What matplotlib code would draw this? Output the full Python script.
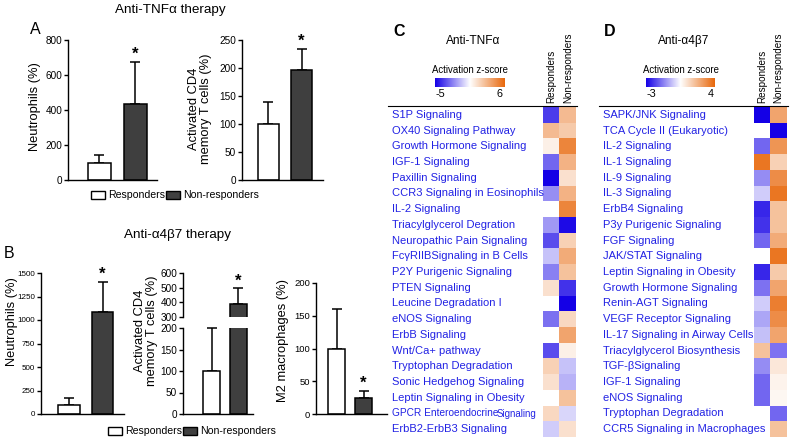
import numpy as np
import matplotlib
matplotlib.use("Agg")
import matplotlib.pyplot as plt
import matplotlib.transforms as mtransforms
from matplotlib.colors import LinearSegmentedColormap, TwoSlopeNorm
from matplotlib.patches import Rectangle
from matplotlib.lines import Line2D

plt.rcParams["font.family"] = ["Liberation Sans", "DejaVu Sans"]

W, H = 792, 441

# ---- bar data (responders, non-responders), mean and upper error ----
GROUPS = ["Responders", "Non-responders"]
A_NEUT, A_NEUT_ERR = [100, 435], [45, 240]
A_CD4, A_CD4_ERR = [100, 197], [40, 37]
B_NEUT, B_NEUT_ERR = [100, 1085], [65, 320]
B_CD4, B_CD4_ERR = [100, 390], [100, 105]
B_M2, B_M2_ERR = [100, 25], [60, 10]

# ---- heatmap data (activation z-score, nan = not significant) ----
C_LABELS = ["S1P Signaling", "OX40 Signaling Pathway", "Growth Hormone Signaling",
            "IGF-1 Signaling", "Paxillin Signaling", "CCR3 Signaling in Eosinophils",
            "IL-2 Signaling", "Triacylglycerol Degration", "Neuropathic Pain Signaling",
            "FcγRIIBSignaling in B Cells", "P2Y Purigenic Signaling", "PTEN Signaling",
            "Leucine Degradation I", "eNOS Signaling", "ErbB Signaling", "Wnt/Ca+ pathway",
            "Tryptophan Degradation", "Sonic Hedgehog Signaling",
            "Leptin Signaling in Obesity", "GPCR Enteroendocrine Signaling",
            "ErbB2-ErbB3 Signaling"]
C_RESP = [-3.8, 2.7, 0.6, -3.0, -5.0, -2.2, np.nan, -2.0, -3.5, -1.2, -2.5, 1.2,
          np.nan, -2.8, np.nan, -3.5, 1.8, 1.2, np.nan, 1.5, -1.0]
C_NONRESP = [2.7, 2.1, 4.8, 3.0, 1.2, 3.0, 4.8, -4.8, 1.8, 3.3, 2.4, -4.0,
             -5.0, 1.5, 3.6, 0.6, -1.2, -1.5, 2.4, -0.8, 1.2]

D_LABELS = ["SAPK/JNK Signaling", "TCA Cycle II (Eukaryotic)", "IL-2 Signaling",
            "IL-1 Signaling", "IL-9 Signaling", "IL-3 Signaling", "ErbB4 Signaling",
            "P3y Purigenic Signaling", "FGF Signaling", "JAK/STAT Signaling",
            "Leptin Signaling in Obesity", "Growth Hormone Signaling",
            "Renin-AGT Signaling", "VEGF Receptor Signaling",
            "IL-17 Signaling in Airway Cells", "Triacylglycerol Biosynthesis",
            "TGF-βSignaling", "IGF-1 Signaling", "eNOS Signaling",
            "Tryptophan Degradation", "CCR5 Signaling in Macrophages"]
D_RESP = [-3.0, np.nan, -1.8, 3.6, -1.35, -0.6, -2.55, -2.4, -1.8, np.nan, -2.55,
          -1.65, -0.6, -1.05, -0.75, 1.6, -1.35, -1.8, -1.8, np.nan, np.nan]
D_NONRESP = [2.4, -3.0, 2.8, 1.2, 3.0, 3.6, 1.6, 1.6, 2.2, 3.6, 1.4, 2.4, 3.4,
             3.0, 2.4, -1.65, 0.6, 0.3, 0.2, -1.8, 1.6]

BAR_COLORS = ["white", "#3f3f3f"]
BAR_W = 0.64
LABEL_BLUE = "#2222e4"
CMAP = LinearSegmentedColormap.from_list("bwo", ["#1400e6", "#ffffff", "#e8680c"])
CMAP.set_bad("white")

fig = plt.figure(figsize=(W / 100, H / 100), dpi=100)


def px_box(x0, y0, x1, y1):
    return [x0 / W, 1 - y1 / H, (x1 - x0) / W, (y1 - y0) / H]


def ftext(x, y, s, **kw):
    return fig.text(x / W, 1 - y / H, s, **kw)


def style_axis(ax, ticks, labelsize, bottom=True):
    ax.spines["top"].set_visible(False)
    ax.spines["right"].set_visible(False)
    ax.spines["bottom"].set_visible(bottom)
    for s in ("left", "bottom"):
        ax.spines[s].set_linewidth(1.0)
    ax.set_xticks([])
    ax.set_yticks(ticks)
    ax.tick_params(axis="y", length=3, width=1.0, labelsize=labelsize, pad=1.2)
    ax.patch.set_alpha(0)


def draw_bars(ax, vals, errs, err_on=(True, True), star=True):
    xs = np.arange(len(vals))
    ax.bar(xs, vals, BAR_W, color=BAR_COLORS, edgecolor="black", linewidth=1.1, zorder=2)
    for x, v, e, on in zip(xs, vals, errs, err_on):
        if not on:
            continue
        cont = ax.errorbar([x], [v], yerr=[[0], [e]], fmt="none", ecolor="black",
                           elinewidth=1.1, capsize=3.6, capthick=1.1, zorder=1)
        for art in list(cont.lines[1]) + list(cont.lines[2]):
            art.set_clip_on(False)
    if star:
        ax.annotate("*", (1, vals[1] + errs[1]), xytext=(0, 0), textcoords="offset points",
                    ha="center", va="bottom", fontsize=12, fontweight="bold")


# ================= Panel A =================
ftext(170, 10, "Anti-TNFα therapy", ha="center", va="center", fontsize=9.7)
ftext(35, 29, "A", ha="center", va="center", fontsize=11.5)

ax = fig.add_axes(px_box(68, 40, 157, 180))
draw_bars(ax, A_NEUT, A_NEUT_ERR)
ax.set_xlim(-0.875, 1.6)
ax.set_ylim(0, 800)
style_axis(ax, [0, 200, 400, 600, 800], 7.2)
ftext(35, 107, "Neutrophils (%)", rotation=90, ha="center", va="center", fontsize=9.3)

ax = fig.add_axes(px_box(242, 40, 323, 180))
draw_bars(ax, A_CD4, A_CD4_ERR)
ax.set_xlim(-0.8, 1.65)
ax.set_ylim(0, 250)
style_axis(ax, [0, 50, 100, 150, 200, 250], 7.2)
ftext(200, 109, "Activated CD4\nmemory T cells (%)", rotation=90, ha="center",
      va="center", fontsize=9.3, linespacing=1.0)


def legend(x, y, size):
    xs = [x, x + 75]
    for i, name in enumerate(GROUPS):
        fig.add_artist(Rectangle(((xs[i]) / W, 1 - (y + 4) / H), 14 / W, 8 / H,
                                 transform=fig.transFigure, facecolor=BAR_COLORS[i],
                                 edgecolor="black", linewidth=1.0))
        ftext(xs[i] + 17, y, name, ha="left", va="center", fontsize=size)


legend(91, 195, 7.6)

# ================= Panel B =================
ftext(177, 235, "Anti-α4β7 therapy", ha="center", va="center", fontsize=9.7)
ftext(9, 253, "B", ha="center", va="center", fontsize=11.5)

ax = fig.add_axes(px_box(41, 273, 124, 414))
draw_bars(ax, B_NEUT, B_NEUT_ERR)
ax.set_xlim(-0.84, 1.64)
ax.set_ylim(0, 1500)
style_axis(ax, [0, 250, 500, 750, 1000, 1250, 1500], 5.8)
ftext(12, 322, "Neutrophils (%)", rotation=90, ha="center", va="center", fontsize=9.3)

# broken axis: lower 0-200, upper 300-600
low = fig.add_axes(px_box(183, 328, 253, 414))
draw_bars(low, B_CD4, B_CD4_ERR, err_on=(True, False), star=False)
low.set_xlim(-1.06, 1.54)
low.set_ylim(0, 200)
style_axis(low, [0, 50, 100, 150, 200], 7.2)
up = fig.add_axes(px_box(183, 273, 253, 317))
draw_bars(up, B_CD4, B_CD4_ERR, err_on=(False, True))
up.set_xlim(-1.06, 1.54)
up.set_ylim(300, 600)
style_axis(up, [300, 400, 500, 600], 7.2, bottom=False)
ftext(146, 331, "Activated CD4\nmemory T cells (%)", rotation=90, ha="center",
      va="center", fontsize=9.3, linespacing=1.0)

ax = fig.add_axes(px_box(316, 283, 387, 414))
draw_bars(ax, B_M2, B_M2_ERR)
ax.set_xlim(-0.76, 1.87)
ax.set_ylim(0, 200)
style_axis(ax, [0, 50, 100, 150, 200], 6.8)
ftext(283, 340, "M2 macrophages (%)", rotation=90, ha="center", va="center", fontsize=9.3)

legend(108, 431, 7.6)


# ================= Panels C and D =================
def heatmap(dx, letter, title, labels, resp, nonresp, vmin, vmax):
    ftext(399 + dx, 32, letter, ha="center", va="center", fontsize=11.5, fontweight="bold")
    ftext(473 + dx, 41, title, ha="center", va="center", fontsize=8.6)
    ftext(470 + dx, 70, "Activation z-score", ha="center", va="center", fontsize=6.9)
    cax = fig.add_axes(px_box(435 + dx, 78, 504 + dx, 87))
    cax.imshow(np.linspace(0, 1, 256)[None, :], cmap=CMAP, aspect="auto")
    cax.axis("off")
    ftext(440 + dx, 94, f"{vmin:g}", ha="center", va="center", fontsize=7.8)
    ftext(500 + dx, 94, f"{vmax:g}", ha="center", va="center", fontsize=7.8)

    hx = fig.add_axes(px_box(543 + dx, 107, 576 + dx, 437))
    data = np.ma.masked_invalid(np.column_stack([resp, nonresp]))
    hx.imshow(data, cmap=CMAP, norm=TwoSlopeNorm(0, vmin, vmax), aspect="auto",
              interpolation="nearest")
    hx.axis("off")
    fig.add_artist(Line2D([388 / W + dx / W, 577 / W + dx / W], [1 - 106 / H] * 2,
                          color="black", lw=0.8))
    ctr = mtransforms.blended_transform_factory(hx.transData, fig.transFigure)
    for j, name in enumerate(GROUPS):
        hx.text(j, 1 - 103 / H, name, transform=ctr, rotation=90, ha="center",
                va="bottom", fontsize=7.1, clip_on=False)
    rtr = mtransforms.blended_transform_factory(fig.transFigure, hx.transData)
    for i, lab in enumerate(labels):
        if lab == "GPCR Enteroendocrine Signaling":
            hx.text((392 + dx) / W, i, "GPCR Enteroendocrine", transform=rtr, ha="left",
                    va="center", fontsize=7.3, color=LABEL_BLUE, clip_on=False)
            hx.text((497 + dx) / W, i + 0.05, "Signaling", transform=rtr, ha="left",
                    va="center", fontsize=6.9, color=LABEL_BLUE, clip_on=False)
        else:
            hx.text((392 + dx) / W, i, lab, transform=rtr, ha="left", va="center",
                    fontsize=8.0, color=LABEL_BLUE, clip_on=False)


heatmap(0, "C", "Anti-TNFα", C_LABELS, C_RESP, C_NONRESP, -5, 6)
heatmap(211, "D", "Anti-α4β7", D_LABELS, D_RESP, D_NONRESP, -3, 4)

fig.savefig("out.png", dpi=100)
